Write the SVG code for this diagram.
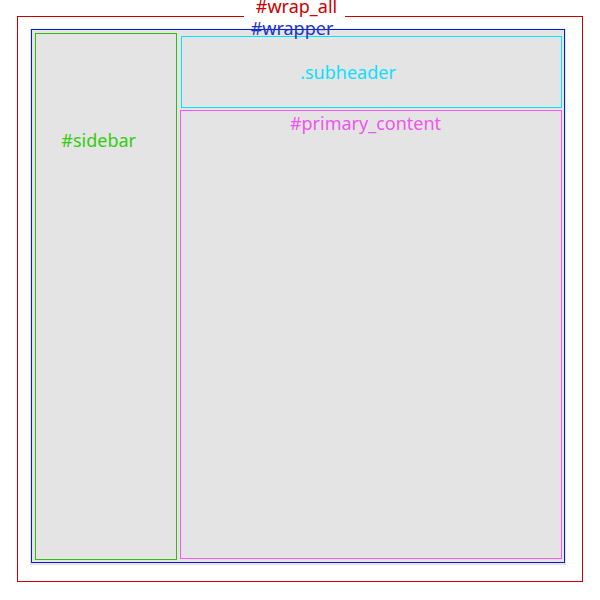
<svg xmlns="http://www.w3.org/2000/svg" width="600" height="600" viewBox="0 0 600 600">
<style>
text{font-family:"Noto Sans","Open Sans","DejaVu Sans",sans-serif;font-size:18px;text-anchor:middle}
.box{fill:#e4e4e4;stroke-width:1}
</style>
<rect width="600" height="600" fill="#fff"/>
<g id="wrap_all">
<rect x="17.5" y="16.5" width="565" height="565" fill="none" stroke="#cc0000"/>
<rect x="244" y="4" width="101" height="16" fill="#fff"/>
<text x="296.5" y="13" fill="#cc0000">#wrap_all</text>
</g>
<g id="wrapper">
<rect x="30" y="28.5" width="536" height="536.5" fill="#e4e4e4"/>
<rect x="31.5" y="29.5" width="533" height="533" fill="none" stroke="#0022cc"/>
</g>
<g id="sidebar">
<rect class="box" x="35.5" y="33.5" width="141" height="526" stroke="#33bb11"/>
<text x="98.7" y="147" fill="#33cc11">#sidebar</text>
</g>
<g id="subheader">
<rect class="box" x="181.5" y="36.5" width="380" height="71" stroke="#00e5ff"/>
<text x="348" y="79" fill="#11ddff">.subheader</text>
</g>
<g id="primary_content">
<rect class="box" x="180.5" y="110.5" width="381" height="448" stroke="#ff55ff"/>
<text x="365.5" y="129.5" fill="#ee55ee">#primary_content</text>
</g>
<g id="wrapper_label">
<text x="292" y="35" fill="#1a33cc">#wrapper</text>
</g>
<g id="connectors"/>
</svg>
